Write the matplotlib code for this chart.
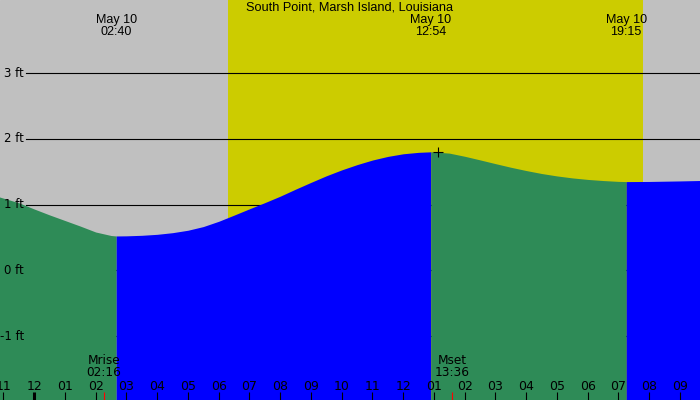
import matplotlib
matplotlib.use("Agg")
import matplotlib.pyplot as plt
import matplotlib.transforms as mtransforms
import numpy as np

# ---- data ----
title = "South Point, Marsh Island, Louisiana"
date_label = "May 10"
# tide heights (ft) read at times (decimal hours from midnight May 10)
tide_hours = [-1.5, -1, -0.5, 0, 0.5, 1, 1.5, 2, 2.5, 2.6667,
              3, 3.5, 4, 4.5, 5, 5.5, 6, 6.5, 7, 7.5, 8, 8.5, 9, 9.5,
              10, 10.5, 11, 11.5, 12, 12.5, 12.9,
              13, 13.5, 14, 14.5, 15, 15.5, 16, 16.5, 17, 17.5, 18, 18.5,
              19, 19.25, 20, 21, 22]
tide_ft = [1.17, 1.10, 1.03, 0.935, 0.845, 0.76, 0.675, 0.585, 0.532, 0.525,
           0.527, 0.535, 0.55, 0.575, 0.612, 0.668, 0.748, 0.842, 0.938, 1.032,
           1.13, 1.237, 1.34, 1.44, 1.53, 1.61, 1.68, 1.735, 1.775, 1.797, 1.805,
           1.804, 1.785, 1.737, 1.682, 1.625, 1.57, 1.52, 1.475, 1.438, 1.408,
           1.385, 1.368, 1.355, 1.352, 1.354, 1.362, 1.372]
extreme_times = ["02:40", "12:54", "19:15"]
extreme_types = ["low", "high", "low"]
cross_time = "13:07"
cross_ft = 1.80
sunrise = "06:18"
sunset = "19:48"
moon_events = ["Mrise", "Mset"]
moon_times = ["02:16", "13:36"]
ft_ticks = [3, 2, 1, 0, -1]
hour_ticks = list(range(-1, 22))


def to_h(s):
    h, m = s.split(":")
    return int(h) + int(m) / 60.0


fig = plt.figure(figsize=(7, 4), dpi=100)
ax = fig.add_axes([0, 0, 1, 1])
ax.set_axis_off()
x0, x1 = -1.112, 21.652
y0, y1 = -1.970, 4.114
ax.set_xlim(x0, x1)
ax.set_ylim(y0, y1)

gray = "#c0c0c0"
yellow = "#cccc00"
green = "#2e8b57"
blue = "#0000ff"

ax.add_patch(plt.Rectangle((x0, y0), x1 - x0, y1 - y0, color=gray, zorder=0))
ax.axvspan(to_h(sunrise), to_h(sunset), color=yellow, zorder=0.5, lw=0)

# grid lines
for v in ft_ticks:
    ax.axhline(v, xmin=26 / 700, xmax=1, color="black", lw=0.8, zorder=1)

t = np.array(tide_hours)
h = np.array(tide_ft)
ext_h = [to_h(s) for s in extreme_times]
bounds = [x0 - 1] + ext_h + [x1 + 1]
# rising segments blue, falling green
for i in range(len(bounds) - 1):
    a, b = bounds[i], bounds[i + 1]
    mask = (t >= a - 0.01) & (t <= b + 0.01)
    if i < len(extreme_types):
        rising = extreme_types[i] == "high"
    else:
        rising = extreme_types[-1] == "low"
    ax.fill_between(t[mask], y0, h[mask], color=blue if rising else green,
                    lw=0, zorder=2, antialiased=True)

# crosshair
ax.plot([to_h(cross_time)], [cross_ft], marker="+", ms=6.8, mew=0.8,
        color="black", zorder=3)

# y labels
for v in ft_ticks:
    ax.text(x0 + (24 / 700) * (x1 - x0), v, f"{v} ft", ha="right", va="center",
            fontsize=8.5, family="DejaVu Sans", zorder=4)

bt = mtransforms.blended_transform_factory(ax.transData, ax.transAxes)
topfont = ["Liberation Sans", "DejaVu Sans"]
ax.text(0.5, 1 - 8 / 400, title, transform=ax.transAxes, ha="center",
        va="center", fontsize=9.2, family=topfont, zorder=4)
for s in extreme_times:
    xh = to_h(s)
    ax.text(xh, 1 - 20 / 400, date_label, transform=bt, ha="center",
            va="center", fontsize=9, family=topfont, zorder=4)
    ax.text(xh, 1 - 32 / 400, s, transform=bt, ha="center", va="center",
            fontsize=9, family=topfont, zorder=4)

# hour ticks and labels
for hr in hour_ticks:
    lab = f"{(hr % 12) or 12:02d}"
    ax.text(hr, 14 / 400, lab, transform=bt, ha="center", va="center",
            fontsize=9, family="DejaVu Sans", zorder=4)
    ax.plot([hr, hr], [0, 8 / 400], transform=bt, color="black",
            lw=2.2 if hr % 24 == 0 else 0.8, zorder=4, solid_capstyle="butt")

# moon events
for ev, s in zip(moon_events, moon_times):
    xh = to_h(s)
    ax.plot([xh, xh], [0, 8 / 400], transform=bt, color="red", lw=0.8,
            zorder=4, solid_capstyle="butt")
    ax.text(xh, 39 / 400, ev, transform=bt, ha="center", va="center",
            fontsize=8.7, family="DejaVu Sans", zorder=4)
    ax.text(xh, 27 / 400, s, transform=bt, ha="center", va="center",
            fontsize=8.7, family="DejaVu Sans", zorder=4)

fig.savefig("out.png", dpi=100)
